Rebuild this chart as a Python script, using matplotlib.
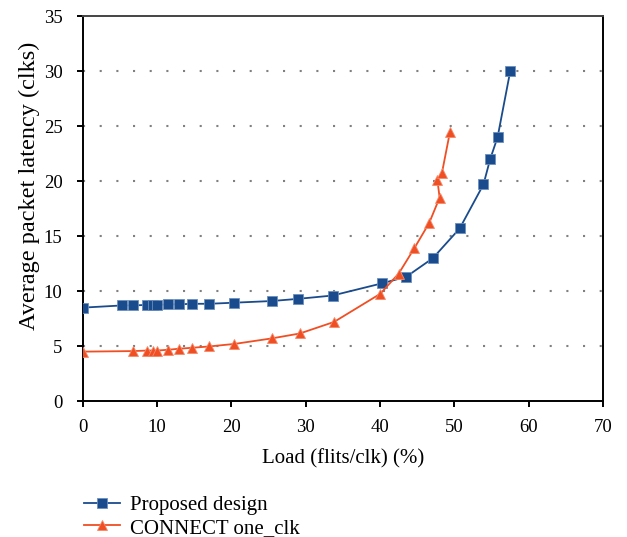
import matplotlib
matplotlib.use("Agg")
import matplotlib.pyplot as plt

# load (%) and latency (clks)
prop_load = [0, 5.3, 6.8, 8.7, 9.5, 10.0, 11.5, 12.9, 14.7, 17.0, 20.4, 25.4, 29.0, 33.6,
             40.2, 43.5, 47.1, 50.7, 53.9, 54.8, 55.8, 57.5]
prop_lat = [8.5, 8.7, 8.7, 8.75, 8.75, 8.75, 8.8, 8.8, 8.85, 8.85, 8.95, 9.1, 9.3, 9.6,
            10.7, 11.3, 13.0, 15.7, 19.7, 22.0, 24.0, 30.0]

conn_load = [0, 6.8, 8.7, 9.5, 10.0, 11.5, 12.9, 14.7, 17.0, 20.4, 25.4, 29.2, 33.8,
             40.0, 42.5, 44.6, 46.6, 48.0, 47.7, 48.3, 49.4]
conn_lat = [4.5, 4.55, 4.6, 4.6, 4.6, 4.67, 4.76, 4.85, 4.97, 5.2, 5.7, 6.15, 7.2,
            9.75, 11.6, 13.9, 16.2, 18.5, 20.1, 20.7, 24.5]

plt.rcParams['font.family'] = 'Liberation Serif'
plt.rcParams['font.size'] = 13.5

fig = plt.figure(figsize=(6.27, 5.37), dpi=100)
ax = fig.add_axes([0.132, 0.253, 0.830, 0.717])

ax.plot(prop_load, prop_lat, color='#1a4b8c', marker='s', markersize=7, lw=1.3,
        markeredgecolor='#6a8fbf', markeredgewidth=0.6, label='Proposed design', zorder=3)
ax.plot(conn_load, conn_lat, color='#f04e23', marker='^', markersize=7.5, lw=1.3,
        markeredgecolor='#f58a6a', markeredgewidth=0.6, label='CONNECT one_clk', zorder=3)

ax.set_xlim(0, 70)
ax.set_ylim(0, 35)
ax.set_xticks(range(0, 71, 10))
ax.set_yticks(range(0, 36, 5))
for y in range(5, 35, 5):
    ax.axhline(y, color='#808080', lw=1.5, ls=(0, (1, 7)), zorder=1)

for s in ax.spines.values():
    s.set_linewidth(1.4)
ax.spines['top'].set_color('#444444')
ax.tick_params(direction='out', length=4.5, width=1.4)
ax.tick_params(axis='y', pad=10)
ax.tick_params(axis='x', pad=8)

ax.set_xlabel('Load (flits/clk) (%)', fontsize=15, va='center')
ax.xaxis.set_label_coords(0.5, -0.1506)
ax.set_ylabel('Average packet latency (clks)', fontsize=17.5, va='center', ha='center')
ax.yaxis.set_label_coords(-0.103, 0.56)

fig.legend(loc='upper left', bbox_to_anchor=(0.12, 0.093), frameon=False, fontsize=15,
           handlelength=1.75, handletextpad=0.5, labelspacing=0.15, borderaxespad=0)

fig.savefig('out.png', dpi=100)
